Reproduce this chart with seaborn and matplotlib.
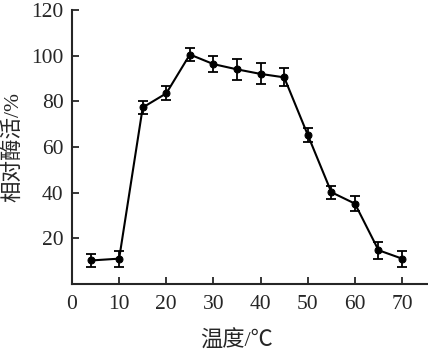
import numpy as np
import pandas as pd
import seaborn as sns
import matplotlib
matplotlib.use("Agg")
import matplotlib.pyplot as plt

# temperature (C), relative activity (%), error (sd)
temperature = [4, 10, 15, 20, 25, 30, 35, 40, 45, 50, 55, 60, 65, 70]
activity = [10.3, 11.1, 77.3, 83.5, 100.5, 96.3, 94.0, 92.0, 90.5, 65.3, 40.2, 35.2, 14.8, 11.1]
error = [3.0, 3.5, 3.0, 3.1, 2.8, 3.6, 4.5, 4.6, 3.9, 2.9, 2.9, 3.3, 3.7, 3.5]

xticks = [0, 10, 20, 30, 40, 50, 60, 70]
yticks = [20, 40, 60, 80, 100, 120]

sns.set_style("ticks")
plt.rcParams['font.family'] = ['Liberation Serif', 'Noto Sans CJK SC', 'DejaVu Sans']

df = pd.DataFrame({'temp': temperature, 'act': activity, 'err': error})

fig = plt.figure(figsize=(4.28, 3.52), dpi=100)
ax = fig.add_axes([0.1682, 0.1932, 0.8318, 0.7784])

sns.lineplot(data=df, x='temp', y='act', ax=ax, color='black', linewidth=1.5,
             marker='o', markersize=5, markeredgecolor='black')
ax.errorbar(df['temp'], df['act'], yerr=df['err'], fmt='none', ecolor='black',
            elinewidth=1.3, capsize=3.8, capthick=1.3)

ax.set_xlim(0, 75.5)
ax.set_ylim(0, 120)
ax.set_xticks(xticks)
ax.set_yticks(yticks)
ax.tick_params(direction='in', length=5, width=1.3, labelsize=15.5)
ax.tick_params(axis='x', pad=8)
ax.tick_params(axis='y', pad=6)
sns.despine(ax=ax)
for s in ['left', 'bottom']:
    ax.spines[s].set_linewidth(1.5)

ax.set_xlabel('温度/℃', fontsize=16, labelpad=7)
ax.xaxis.set_label_coords(35 / 75.5, -0.17)
ax.set_ylabel('相对酶活/%', fontsize=15.5, labelpad=6)

fig.savefig('out.png', dpi=100)
